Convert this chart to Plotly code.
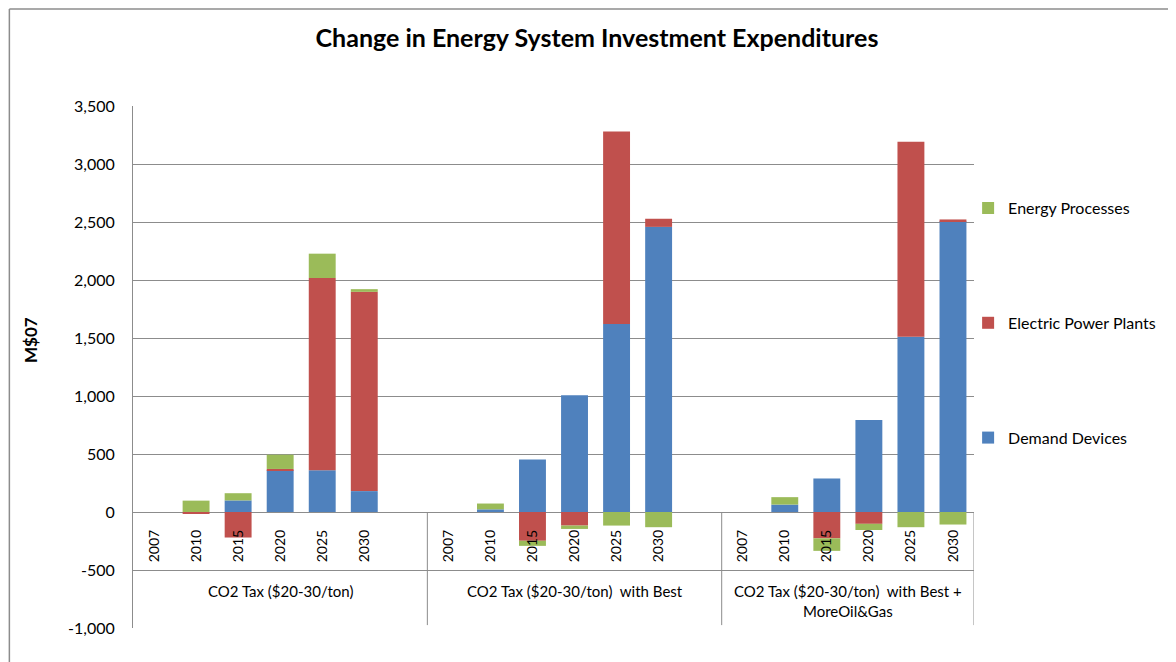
import plotly.graph_objects as go

# ---- data ----
groups = ["CO2 Tax ($20-30/ton)",
          "CO2 Tax ($20-30/ton)  with Best",
          "CO2 Tax ($20-30/ton)  with Best +<br>MoreOil&Gas"]
years = ["2007", "2010", "2015", "2020", "2025", "2030"]
demand_devices = [[0, 0, 100, 359, 359, 180],
                  [0, 23, 452, 1006, 1621, 2458],
                  [0, 64, 289, 793, 1510, 2507]]
electric_power = [[0, -12, -220, 12, 1658, 1718],
                  [0, 0, -248, -117, 1659, 70],
                  [0, 0, -227, -102, 1682, 15]]
energy_proc = [[0, 98, 62, 123, 210, 23],
               [0, 50, -44, -29, -117, -131],
               [0, 64, -108, -53, -131, -108]]
y_ticks = list(range(-1000, 3501, 500))
y_ticktext = [f"{v:,}" for v in y_ticks]

# category slots: each group followed by one blank slot except the last
slots_per_group = [len(years) + 1, len(years) + 1, len(years)]
starts = [sum(slots_per_group[:g]) for g in range(len(groups))]
xpos = [starts[g] + i for g in range(len(groups)) for i in range(len(years))]
ticktext = [y for g in range(len(groups)) for y in years]
total_slots = sum(slots_per_group)

def flat(a):
    return [v for row in a for v in row]

BLUE, RED, GREEN = "#4F81BD", "#C0504D", "#9BBB59"
GRID = "#8C8C8C"
FONT = "Lato"

fig = go.Figure()
for rank, (name, vals, col) in enumerate([("Demand Devices", demand_devices, BLUE),
                                          ("Electric Power Plants", electric_power, RED),
                                          ("Energy Processes", energy_proc, GREEN)]):
    fig.add_trace(go.Bar(x=xpos, y=flat(vals), name=name, legendgroup=name,
                         legendrank=1000 - rank,
                         marker=dict(color=col, line=dict(width=0)),
                         width=0.64))

shapes = []
# vertical separators in the category table
for g in range(len(groups)):
    xe = starts[g] + slots_per_group[g] - 0.5
    shapes.append(dict(type="line", xref="x", yref="y", x0=xe, x1=xe,
                       y0=0, y1=-975, line=dict(color=GRID, width=1)))
# chart border (left/top)
shapes.append(dict(type="line", xref="paper", yref="paper", x0=-0.147, x1=1.3,
                   y0=1.186, y1=1.186, line=dict(color="#8C8C8C", width=1.5)))
shapes.append(dict(type="line", xref="paper", yref="paper", x0=-0.147, x1=-0.147,
                   y0=1.186, y1=-0.1, line=dict(color="#8C8C8C", width=1.5)))

annotations = []
for g, lab in enumerate(groups):
    xc = starts[g] - 0.5 + slots_per_group[g] / 2
    annotations.append(dict(x=xc, y=-585, xref="x", yref="y", text=lab,
                            showarrow=False, yanchor="top",
                            font=dict(family=FONT, size=15, color="#000")))

fig.update_layout(
    width=1168, height=654,
    margin=dict(l=125, r=202, t=98, b=34, autoexpand=False),
    paper_bgcolor="white", plot_bgcolor="white",
    barmode="relative",
    title=dict(text="<b>Change in Energy System Investment Expenditures</b>",
               x=(597 - 8) / 1168, xanchor="center", y=1 - 30 / 654, yanchor="middle",
               font=dict(family=FONT, size=25, color="#000")),
    font=dict(family=FONT, size=14, color="#000"),
    showlegend=True,
    legend=dict(traceorder="grouped", tracegroupgap=91,
                x=0.993, xanchor="left", y=0.837, yanchor="top",
                itemwidth=30, font=dict(family=FONT, size=16, color="#000"),
                bgcolor="rgba(0,0,0,0)"),
    xaxis=dict(range=[-0.5, total_slots - 0.5], tickmode="array",
               tickvals=xpos, ticktext=ticktext, tickangle=-90,
               anchor="free", position=1000 / 4500,
               showgrid=False, showline=False, zeroline=False,
               ticks="", ticklabelstandoff=14,
               tickfont=dict(family=FONT, size=14, color="#000")),
    yaxis=dict(range=[-1000, 3500], tickmode="array", tickvals=y_ticks,
               ticktext=y_ticktext, showgrid=True, gridcolor=GRID, gridwidth=1,
               zeroline=True, zerolinecolor=GRID, zerolinewidth=1,
               showline=True, linecolor=GRID, linewidth=1,
               ticks="", ticklabelstandoff=14,
               tickfont=dict(family=FONT, size=16, color="#000")),
    shapes=shapes, annotations=annotations,
)
fig.add_annotation(text="<b>M$07</b>", xref="paper", yref="paper",
                   x=(30 - 133) / 841, y=(628 - 340) / 522, textangle=-90,
                   showarrow=False, xanchor="center", yanchor="middle",
                   font=dict(family=FONT, size=17, color="#000"))

fig.write_html("out.html")
